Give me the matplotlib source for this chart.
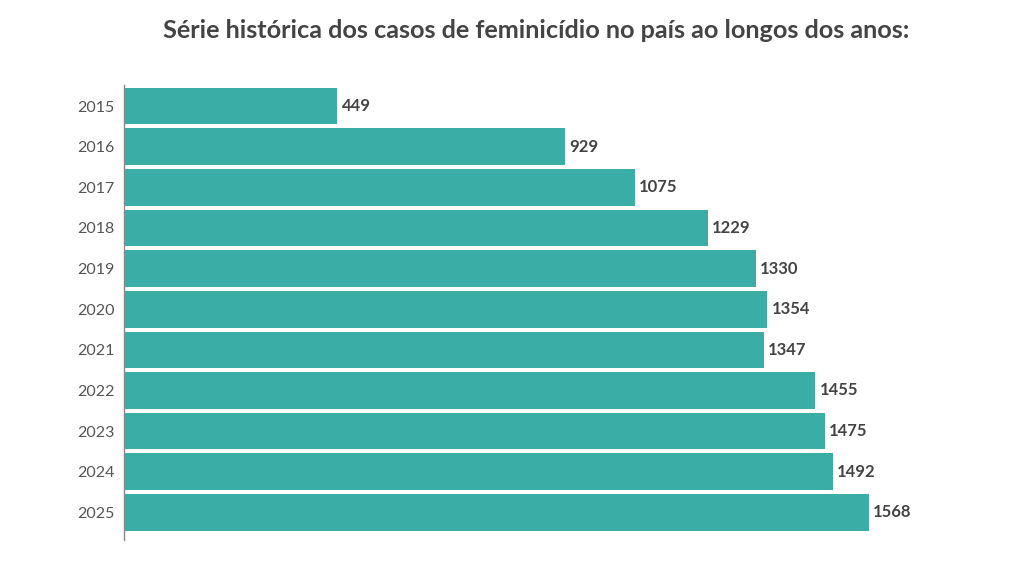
import matplotlib
matplotlib.use('Agg')
import matplotlib.pyplot as plt

aYear = ['2015', '2016', '2017', '2018', '2019', '2020', '2021', '2022', '2023', '2024', '2025']
aCases = [449, 929, 1075, 1229, 1330, 1354, 1347, 1455, 1475, 1492, 1568]

sTitle = 'Série histórica dos casos de feminicídio no país ao longos dos anos:'
sColor_bar = '#3aaea6'

plt.rcParams['font.family'] = ['Lato', 'DejaVu Sans']

fig = plt.figure(dpi=100)
fig.set_figwidth(10.12)
fig.set_figheight(5.73)
ax = fig.add_axes([0.1225, 0.0576, 0.845, 0.7941])

aPos = list(range(len(aYear)))
bars = ax.barh(aPos, aCases, height=0.9, color=sColor_bar)

for pos, val in zip(aPos, aCases):
    ax.text(val + 9, pos, str(val), va='center', ha='left',
            fontsize=12, fontweight='bold', color='#444444')

ax.set_yticks(aPos)
ax.set_yticklabels(aYear, fontsize=11.5, color='#555555')
ax.set_xlim(0, 1800)
ax.set_ylim(10.68, -0.52)
ax.set_xticks([])
ax.tick_params(axis='y', length=0, pad=7)

for s in ['top', 'right', 'bottom']:
    ax.spines[s].set_visible(False)
ax.spines['left'].set_color('#888888')
ax.spines['left'].set_linewidth(1)

fig.text(0.53, 0.947, sTitle, ha='center', va='center',
         fontsize=18.2, fontweight='bold', color='#444444')

plt.savefig('out.png', dpi=100)
